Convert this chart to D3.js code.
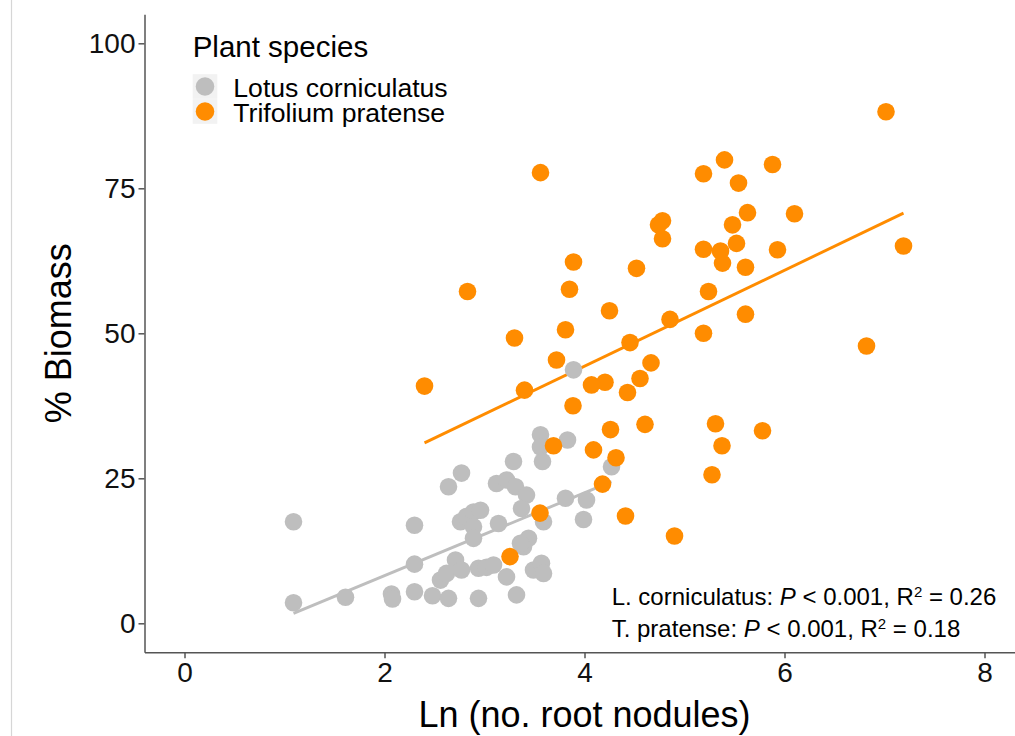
<!DOCTYPE html>
<html>
<head>
<meta charset="utf-8">
<script src="https://cdn.jsdelivr.net/npm/d3@7"></script>
<style>
  html, body { margin: 0; padding: 0; background: #fff; }
  svg { display: block; font-family: "Liberation Sans", Arial, Helvetica, sans-serif; }
</style>
</head>
<body>
<svg id="chart" width="1015" height="736"></svg>
<script>
// ---------- data ----------
const speciesNames = ["Lotus corniculatus", "Trifolium pratense"];
const speciesColors = ["#BEBEBE", "#FF8C00"];

const lotusX = [1.09,1.09,1.61,2.07,2.08,2.30,2.30,2.30,2.48,2.64,2.64,2.77,2.76,2.82,2.89,2.96,2.89,2.89,2.56,2.62,2.71,2.77,2.94,3.02,3.09,2.94,3.22,3.32,3.49,3.57,3.59,3.39,3.44,3.36,3.14,3.12,3.22,3.31,3.42,3.37,3.29,3.56,3.56,3.58,3.83,3.89,3.81,4.02,3.99,3.59,4.27];
const lotusY = [17.5,3.55,4.5,5.05,4.2,5.45,10.2,16.9,4.75,4.3,23.55,25.9,17.5,18.4,19.2,19.5,16.65,14.65,7.45,8.6,10.9,9.2,9.5,9.65,10.05,4.3,8.0,4.9,9.2,10.35,8.6,13.2,14.65,13.8,17.2,24.1,24.7,23.55,22.1,19.8,27.9,32.5,30.4,27.9,31.6,43.7,21.55,21.25,17.9,17.5,27.0];

const trifoliumX = [7.015,5.40,5.19,5.88,5.54,5.63,6.10,5.48,5.52,5.19,5.36,5.38,5.61,5.93,7.19,5.24,5.61,5.19,6.82,3.56,2.83,3.89,3.85,3.30,3.81,3.72,2.40,3.40,4.25,4.455,4.855,4.52,4.74,4.78,4.78,4.665,4.555,4.205,4.07,4.43,3.885,4.26,4.605,5.31,5.78,5.375,4.315,4.09,3.69,5.275,4.18,4.41,4.90,3.555,3.255];
const trifoliumY = [88.2,79.9,77.5,79.1,75.9,70.8,70.6,68.7,65.5,64.5,64.2,62.1,61.4,64.4,65.05,57.2,53.3,50.0,47.8,77.7,57.2,62.3,57.6,49.2,50.6,45.4,40.9,40.2,53.9,48.4,52.4,61.2,68.7,69.4,66.3,44.9,42.2,41.55,41.1,39.8,37.5,33.4,34.3,34.4,33.2,30.6,28.55,29.9,30.6,25.6,24.0,18.5,15.05,19.0,11.5];

// fitted regression lines (intercept, slope)
const fitIntercepts = [-6.06, 11.25];
const fitSlopes = [7.14, 8.27];

const xTicks = [0, 2, 4, 6, 8];
const yTicks = [0, 25, 50, 75, 100];

const xTitle = "Ln (no. root nodules)";
const yTitle = "% Biomass";
const legendTitle = "Plant species";
const statLabels = ["L. corniculatus: ", "T. pratense: "];
const statP = ["0.001", "0.001"];
const statR2 = ["0.26", "0.18"];

// ---------- chart ----------
const svg = d3.select("#chart");

const x = d3.scaleLinear().domain([-0.4, 8.4]).range([144.5, 1024.5]);
const y = d3.scaleLinear().domain([-5, 105]).range([652.3, 14.3]);

// faint border line at left of image
svg.append("line")
  .attr("x1", 11.5).attr("x2", 11.5).attr("y1", 0).attr("y2", 736)
  .attr("stroke", "#D6D6D6").attr("stroke-width", 1.2);

const series = [
  { xs: lotusX, ys: lotusY },
  { xs: trifoliumX, ys: trifoliumY }
].map((s, i) => ({
  name: speciesNames[i],
  color: speciesColors[i],
  intercept: fitIntercepts[i],
  slope: fitSlopes[i],
  points: s.xs.map((v, j) => ({ x: v, y: s.ys[j] }))
}));

// regression lines (beneath points)
const line = d3.line().x(d => x(d.x)).y(d => y(d.y));
series.forEach(s => {
  const [x0, x1] = d3.extent(s.points, d => d.x);
  const pts = [x0, x1].map(v => ({ x: v, y: s.intercept + s.slope * v }));
  svg.append("path")
    .datum(pts)
    .attr("d", line)
    .attr("fill", "none")
    .attr("stroke", s.color)
    .attr("stroke-width", 2.9);
});

// points
series.forEach(s => {
  svg.append("g")
    .selectAll("circle")
    .data(s.points)
    .join("circle")
    .attr("cx", d => x(d.x))
    .attr("cy", d => y(d.y))
    .attr("r", 8.8)
    .attr("fill", s.color);
});

// axes
const axisColor = "#555555";
const gx = svg.append("g")
  .attr("transform", `translate(0,${y(-5)})`)
  .call(d3.axisBottom(x).tickValues(xTicks).tickSize(6).tickPadding(3.5).tickSizeOuter(0));
const gy = svg.append("g")
  .attr("transform", `translate(${x(-0.4)},0)`)
  .call(d3.axisLeft(y).tickValues(yTicks).tickSize(6).tickPadding(3).tickSizeOuter(0));

[gx, gy].forEach(g => {
  g.select(".domain").attr("stroke", axisColor).attr("stroke-width", 1.5);
  g.selectAll(".tick line").attr("stroke", axisColor).attr("stroke-width", 1.5);
  g.selectAll(".tick text")
    .attr("fill", "#111")
    .style("font-size", "28px")
    .style("font-family", "'Liberation Sans', Arial, sans-serif");
});

// axis titles
svg.append("text")
  .attr("x", (x.range()[0] + x.range()[1]) / 2)
  .attr("y", 727)
  .attr("text-anchor", "middle")
  .style("font-size", "36px")
  .attr("fill", "#000")
  .text(xTitle);

svg.append("text")
  .attr("transform", `translate(71,${(y.range()[0] + y.range()[1]) / 2}) rotate(-90)`)
  .attr("text-anchor", "middle")
  .style("font-size", "36px")
  .attr("fill", "#000")
  .text(yTitle);

// legend
const legend = svg.append("g");
legend.append("text")
  .attr("x", 192.7).attr("y", 56.7)
  .style("font-size", "29.5px")
  .attr("fill", "#000")
  .text(legendTitle);

series.forEach((s, i) => {
  const cy = 86.5 + i * 25;
  legend.append("rect")
    .attr("x", 192.7).attr("y", cy - 12.3)
    .attr("width", 24.6).attr("height", 24.6)
    .attr("fill", "#F2F2F2");
  legend.append("circle")
    .attr("cx", 205).attr("cy", cy)
    .attr("r", 9.3)
    .attr("fill", s.color);
  legend.append("text")
    .attr("x", 233.3).attr("y", cy + 10.2)
    .style("font-size", "26.6px")
    .attr("fill", "#000")
    .text(s.name);
});

// stats annotation
statLabels.forEach((lab, i) => {
  const t = svg.append("text")
    .attr("x", 611.7)
    .attr("y", 605 + i * 31.7)
    .style("font-size", "24px")
    .attr("fill", "#000");
  t.append("tspan").text(lab);
  t.append("tspan").style("font-style", "italic").text("P");
  t.append("tspan").text(" < " + statP[i] + ", R");
  t.append("tspan").attr("dy", -8).style("font-size", "15px").text("2");
  t.append("tspan").attr("dy", 8).text(" = " + statR2[i]);
});
</script>
</body>
</html>
